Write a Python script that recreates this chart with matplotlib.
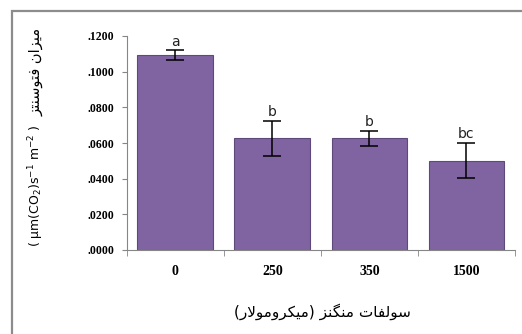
import numpy as np
import matplotlib.pyplot as plt
from matplotlib.patches import Rectangle

# --- dados ---
categorias = ['0', '250', '350', '1500']
fotossintese = [0.1093, 0.0626, 0.0626, 0.0501]
erro = [0.0028, 0.0100, 0.0043, 0.0100]
letras = ['a', 'b', 'b', 'bc']
yticks = [0.0, 0.02, 0.04, 0.06, 0.08, 0.10, 0.12]

titulo_y_fa = 'میزان فتوسنتز'
titulo_y_unid = r'( µm(CO$_2$)s$^{-1}$ m$^{-2}$ )'
titulo_x_fa = 'سولفات منگنز (میکرومولار)'

# formas de apresentação: (isolada, final, inicial, medial)
FORMAS = {
    'ا': ('\uFE8D', '\uFE8E', None, None),
    'ت': ('\uFE95', '\uFE96', '\uFE97', '\uFE98'),
    'ر': ('\uFEAD', '\uFEAE', None, None),
    'ز': ('\uFEAF', '\uFEB0', None, None),
    'س': ('\uFEB1', '\uFEB2', '\uFEB3', '\uFEB4'),
    'ف': ('\uFED1', '\uFED2', '\uFED3', '\uFED4'),
    'ک': ('\uFED9', '\uFEDA', '\uFEDB', '\uFEDC'),
    'گ': ('\uFB92', '\uFB93', '\uFB94', '\uFB95'),
    'ل': ('\uFEDD', '\uFEDE', '\uFEDF', '\uFEE0'),
    'م': ('\uFEE1', '\uFEE2', '\uFEE3', '\uFEE4'),
    'ن': ('\uFEE5', '\uFEE6', '\uFEE7', '\uFEE8'),
    'و': ('\uFEED', '\uFEEE', None, None),
    'ی': ('\uFEF1', '\uFEF2', '\uFEF3', '\uFEF4'),
    'لا': ('\uFEFB', '\uFEFC', None, None),
}


def liga_esquerda(c):
    return c in FORMAS and FORMAS[c][2] is not None


def moldar(texto):
    """Junta as letras persas e inverte para desenho da esquerda p/ direita."""
    letras_ = []
    i = 0
    while i < len(texto):
        if texto[i] == 'ل' and i + 1 < len(texto) and texto[i + 1] == 'ا':
            letras_.append('لا')
            i += 2
        else:
            letras_.append(texto[i])
            i += 1
    saida = []
    for k, c in enumerate(letras_):
        if c not in FORMAS:
            saida.append({'(': ')', ')': '('}.get(c, c))
            continue
        ant = k > 0 and liga_esquerda(letras_[k - 1])
        prox = liga_esquerda(c) and k + 1 < len(letras_) and letras_[k + 1] in FORMAS
        iso, fin, ini, med = FORMAS[c]
        if ant and prox:
            saida.append(med)
        elif ant:
            saida.append(fin)
        elif prox:
            saida.append(ini)
        else:
            saida.append(iso)
    return ''.join(reversed(saida))


roxo = '#8064A2'
borda = '#5E4A7A'
cinza = '#868686'

fig = plt.figure(figsize=(5.22, 3.34), dpi=100)
ax = fig.add_axes([126.7 / 522, 84 / 334, 388.3 / 522, 214 / 334])

x = np.arange(len(categorias))
ax.bar(x, fotossintese, width=0.78, color=roxo, edgecolor=borda, linewidth=0.8, zorder=2)
ax.errorbar(x, fotossintese, yerr=erro, fmt='none', ecolor='black',
            elinewidth=1.1, capsize=6.5, capthick=1.1, zorder=3)

for xi, v, e, l in zip(x, fotossintese, erro, letras):
    ax.annotate(l, (xi, v + e), xytext=(0, 1), textcoords='offset points',
                ha='center', va='bottom', fontsize=10, family='DejaVu Sans',
                color='#222222')

ax.set_xlim(-0.5, len(categorias) - 0.5)
ax.set_ylim(0, 0.12)
ax.set_yticks(yticks)
ax.set_yticklabels([f'{v:.4f}'[1:] for v in yticks], fontsize=8.5,
                   family='Liberation Serif', fontweight='bold')
ax.set_xticks(x)
ax.set_xticklabels(categorias, fontsize=10, family='Liberation Serif', fontweight='bold')
ax.set_xticks(np.arange(len(categorias) + 1) - 0.5, minor=True)
ax.tick_params(axis='x', which='major', length=0, pad=11)
ax.tick_params(axis='x', which='minor', length=4, color=cinza, direction='out')
ax.tick_params(axis='y', length=3.6, color=cinza, pad=5.5)

for lado in ['top', 'right']:
    ax.spines[lado].set_visible(False)
ax.spines['left'].set_color(cinza)
ax.spines['bottom'].set_color(cinza)

# títulos dos eixos
fig.text(36 / 522, 1 - 72 / 334, moldar(titulo_y_fa), rotation=90,
         ha='center', va='center', fontsize=10.5, family='DejaVu Sans')
fig.text(36 / 522, 1 - 186 / 334, titulo_y_unid, rotation=90,
         ha='center', va='center', fontsize=9, family='DejaVu Sans')
fig.text(322 / 522, 1 - 312 / 334, moldar(titulo_x_fa),
         ha='center', va='center', fontsize=11, family='DejaVu Sans')

# moldura da área do gráfico
fig.patches.append(Rectangle((12 / 522, -0.1), 1.1, 1.1 - 11 / 334,
                             transform=fig.transFigure, fill=False,
                             edgecolor='#8C8C8C', linewidth=1.6))

fig.savefig('out.png', dpi=100)
